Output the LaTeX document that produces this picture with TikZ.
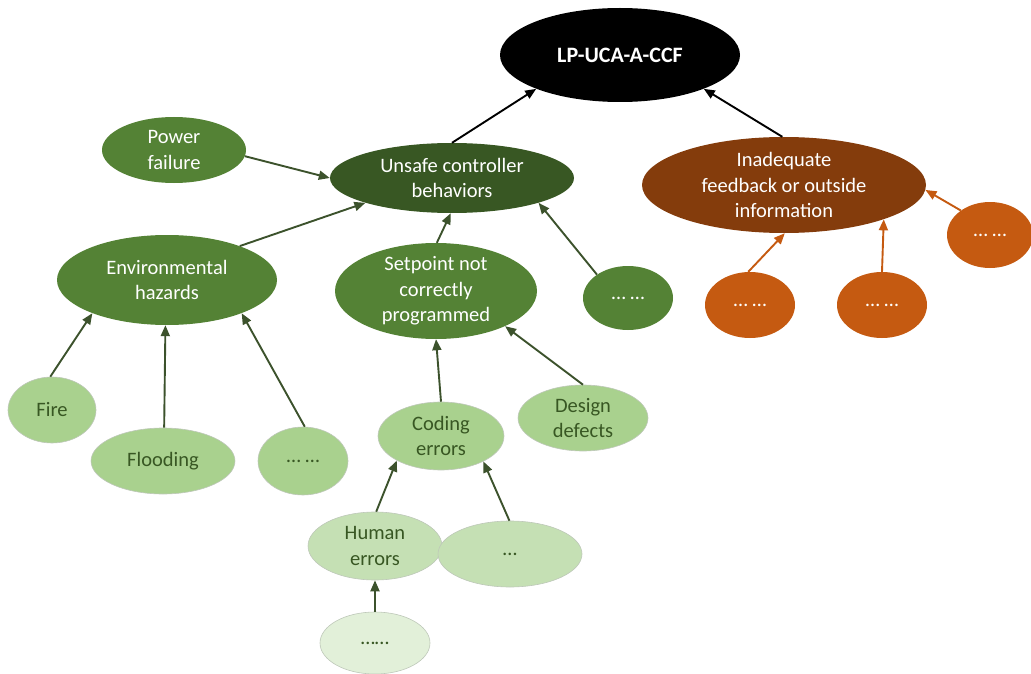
\documentclass[tikz,border=0pt]{standalone}
\usepackage{fontspec}
\setmainfont{Carlito}
\usetikzlibrary{shapes.geometric,arrows.meta}

\definecolor{greenD}{RGB}{56,87,35}
\definecolor{greenM}{RGB}{84,130,53}
\definecolor{greenL}{RGB}{169,209,142}
\definecolor{greenXL}{RGB}{197,224,180}
\definecolor{greenXXL}{RGB}{226,240,217}
\definecolor{causeBrown}{RGB}{132,60,12}
\definecolor{causeOrange}{RGB}{197,90,17}
\definecolor{arrowGreen}{RGB}{60,82,44}
\definecolor{rimGray}{RGB}{190,200,185}

\tikzset{
  ell/.style={ellipse, inner sep=-12pt, align=center,
    font=\fontsize{20.5}{25.5}\selectfont},
  wh/.style 2 args={minimum width=#1pt, minimum height=#2pt},
  darkG/.style={ell, fill=greenM, text=white},
  deepG/.style={ell, fill=greenD, text=white},
  lightG/.style={ell, fill=greenL, draw=rimGray, line width=0.6pt, text=greenD},
  paleG/.style={ell, fill=greenXL, draw=rimGray, line width=0.6pt, text=greenD},
  faintG/.style={ell, fill=greenXXL, draw=rimGray, line width=0.6pt, text=greenD},
  brownE/.style={ell, fill=causeBrown, text=white},
  orangeE/.style={ell, fill=causeOrange, text=white},
  arr/.style={-{Triangle[length=11pt,width=9pt]}, line width=1.9pt, draw=arrowGreen},
  arrK/.style={arr, draw=black},
  arrO/.style={arr, draw=causeOrange},
}

\begin{document}
\begin{tikzpicture}[x=1pt,y=-1pt]
\useasboundingbox (0,0) rectangle (1031,674);

% top event
\node[ell, fill=black, text=white, wh={240}{94},
      font=\fontsize{22}{25.5}\selectfont\bfseries] (lp) at (620,55) {LP-UCA-A-CCF};

% controller branch
\node[deepG, wh={244}{70}] (uc) at (452,178) {Unsafe controller\\behaviors};
\node[darkG, wh={144}{66}] (pf) at (174,150) {Power\\failure};
\node[darkG, wh={220}{90}] (eh) at (167,280) {Environmental\\hazards};
\node[darkG, wh={202}{96}] (sp) at (436,291) {Setpoint not\\correctly\\programmed};
\node[darkG, wh={90}{64}] (gd) at (628,298) {\dots\ \dots};

\node[lightG, wh={88}{66}] (fi) at (52,410) {Fire};
\node[lightG, wh={144}{66}] (fl) at (163,461) {Flooding};
\node[lightG, wh={90}{68}] (ed) at (303,461) {\dots\ \dots};
\node[lightG, wh={126}{68}] (ce) at (441,436) {Coding\\errors};
\node[lightG, wh={130}{66}] (dd) at (583,418) {Design\\defects};

\node[paleG, wh={134}{68}] (he) at (375,546) {Human\\errors};
\node[paleG, wh={144}{66}] (hd) at (510,554) {\dots};
\node[faintG, wh={110}{62}] (ld) at (375,643) {\dots\dots};

% feedback branch
\node[brownE, wh={284}{96}] (in) at (784,185) {Inadequate\\feedback or outside\\information};
\node[orangeE, wh={90}{66}] (o1) at (750,305) {\dots\ \dots};
\node[orangeE, wh={90}{66}] (o2) at (882,305) {\dots\ \dots};
\node[orangeE, wh={86}{66}] (o3) at (990,235) {\dots\ \dots};

% connectors
\draw[arrK] (uc.90) -- (lp.202);
\draw[arrK] (in.92) -- (lp.338);

\draw[arr] (pf.-5) -- (uc.180);
\draw[arr] (eh.25) -- (uc.196);
\draw[arr] (sp.89) -- (uc.268);
\draw[arr] (gd.143) -- (uc.344);

\draw[arr] (fi.93) -- (eh.204);
\draw[arr] (fl.88) -- (eh.268);
\draw[arr] (ed.87) -- (eh.336);

\draw[arr] (ce.90) -- (sp.270);
\draw[arr] (dd.90) -- (sp.333);

\draw[arr] (he.88) -- (ce.209);
\draw[arr] (hd.91) -- (ce.329);
\draw[arr] (ld.90) -- (he.270);

\draw[arrO] (o1.93) -- (in.271);
\draw[arrO] (o2.90) -- (in.341);
\draw[arrO] (o3.140) -- (in.358);
\end{tikzpicture}
\end{document}
